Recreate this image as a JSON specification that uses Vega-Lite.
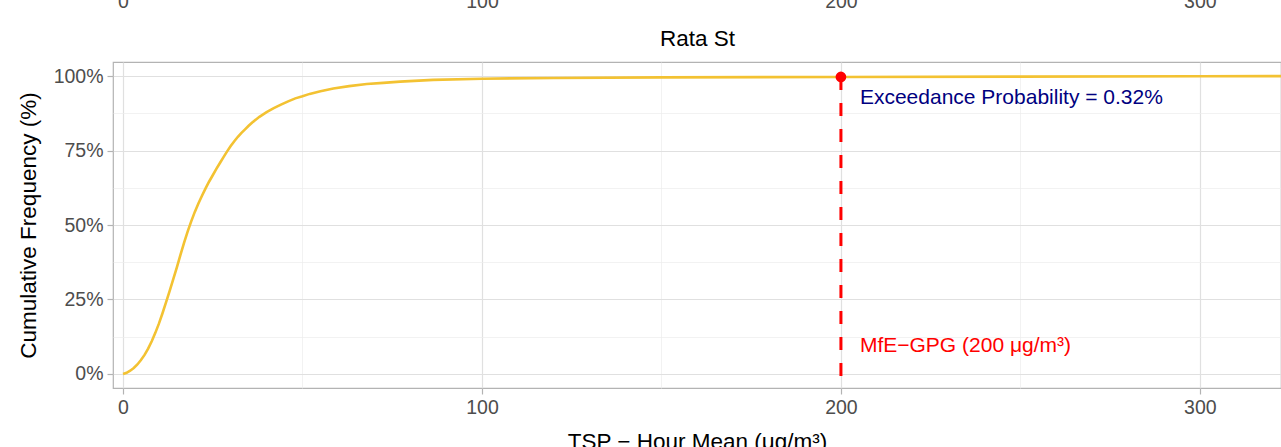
{
  "$schema": "https://vega.github.io/schema/vega-lite/v6.json",
  "width": 1168,
  "height": 326,
  "autosize": {"type": "none"},
  "padding": {"left": 113, "top": 62, "right": 0, "bottom": 59},
  "background": "white",
  "config": {
    "font": "Liberation Sans",
    "view": {"stroke": "#B3B3B3", "strokeWidth": 1.2},
    "axis": {"labelFont": "Liberation Sans", "titleFont": "Liberation Sans"}
  },
  "datasets": {
    "ecdf": [
      {"x": 0, "p": 0},
      {"x": 1, "p": 0.004},
      {"x": 2, "p": 0.011},
      {"x": 3, "p": 0.02},
      {"x": 4, "p": 0.032},
      {"x": 5, "p": 0.047},
      {"x": 6, "p": 0.064},
      {"x": 7, "p": 0.085},
      {"x": 8, "p": 0.11},
      {"x": 9, "p": 0.138},
      {"x": 10, "p": 0.169},
      {"x": 11, "p": 0.204},
      {"x": 12, "p": 0.241},
      {"x": 13, "p": 0.279},
      {"x": 14, "p": 0.318},
      {"x": 15, "p": 0.358},
      {"x": 16, "p": 0.4},
      {"x": 17, "p": 0.44},
      {"x": 18, "p": 0.478},
      {"x": 19, "p": 0.512},
      {"x": 20, "p": 0.544},
      {"x": 21, "p": 0.572},
      {"x": 22, "p": 0.598},
      {"x": 23, "p": 0.623},
      {"x": 24, "p": 0.646},
      {"x": 25, "p": 0.667},
      {"x": 26, "p": 0.688},
      {"x": 27, "p": 0.708},
      {"x": 28, "p": 0.728},
      {"x": 29, "p": 0.747},
      {"x": 30, "p": 0.765},
      {"x": 31, "p": 0.781},
      {"x": 32, "p": 0.796},
      {"x": 33, "p": 0.809},
      {"x": 34, "p": 0.821},
      {"x": 35, "p": 0.833},
      {"x": 36, "p": 0.844},
      {"x": 38, "p": 0.863},
      {"x": 40, "p": 0.879},
      {"x": 42, "p": 0.892},
      {"x": 44, "p": 0.904},
      {"x": 46, "p": 0.915},
      {"x": 48, "p": 0.925},
      {"x": 50, "p": 0.932},
      {"x": 52, "p": 0.94},
      {"x": 55, "p": 0.949},
      {"x": 58.6, "p": 0.958},
      {"x": 63, "p": 0.966},
      {"x": 67.9, "p": 0.973},
      {"x": 72.5, "p": 0.977},
      {"x": 77.2, "p": 0.981},
      {"x": 86.4, "p": 0.987},
      {"x": 100, "p": 0.991},
      {"x": 120, "p": 0.9935},
      {"x": 150, "p": 0.9955},
      {"x": 200, "p": 0.9968},
      {"x": 250, "p": 0.998},
      {"x": 300, "p": 0.999},
      {"x": 340, "p": 1.0}
    ],
    "threshold": [
      {"x": 200, "p": 0.9968}
    ],
    "labels": [
      {"x": 200, "p": 0.926, "label": "Exceedance Probability = 0.32%", "kind": "prob"},
      {"x": 200, "p": 0.094, "label": "MfE\u2212GPG (200 \u03bcg/m\u00b3)", "kind": "std"}
    ]
  },
  "resolve": {"axis": {"x": "independent"}},
  "layer": [
    {
      "data": {"name": "ecdf"},
      "mark": {"type": "line", "color": "#F3C232", "strokeWidth": 2.6, "clip": true},
      "encoding": {
        "x": {
          "field": "x", "type": "quantitative",
          "scale": {"domain": [-2.79, 322.6], "nice": false, "zero": false},
          "axis": {
            "orient": "bottom",
            "values": [0, 50, 100, 150, 200, 250, 300],
            "labelExpr": "datum.value % 100 === 0 ? datum.label : ''",
            "domain": false,
            "grid": true,
            "gridColor": {"condition": {"test": "datum.value % 100 === 0", "value": "#E0E0E0"}, "value": "#EDEDED"},
            "gridWidth": {"condition": {"test": "datum.value % 100 === 0", "value": 1.2}, "value": 0.7},
            "tickColor": "#B3B3B3",
            "tickOpacity": {"condition": {"test": "datum.value % 100 === 0", "value": 1}, "value": 0},
            "tickSize": 6,
            "tickWidth": 1.2,
            "labelPadding": 4,
            "labelFontSize": 19.5,
            "labelColor": "#4D4D4D",
            "title": "TSP \u2212 Hour Mean (\u03bcg/m\u00b3)",
            "titleFontSize": 22.5,
            "titleFontWeight": "normal",
            "titleColor": "#000000",
            "titlePadding": 14
          }
        },
        "y": {
          "field": "p", "type": "quantitative",
          "scale": {"domain": [-0.047, 1.047], "nice": false, "zero": false},
          "axis": {
            "orient": "left",
            "values": [0, 0.125, 0.25, 0.375, 0.5, 0.625, 0.75, 0.875, 1],
            "labelExpr": "(datum.value * 4) % 1 === 0 ? format(datum.value, '.0%') : ''",
            "domain": false,
            "grid": true,
            "gridColor": {"condition": {"test": "(datum.value * 4) % 1 === 0", "value": "#E0E0E0"}, "value": "#EDEDED"},
            "gridWidth": {"condition": {"test": "(datum.value * 4) % 1 === 0", "value": 1.2}, "value": 0.7},
            "tickColor": "#B3B3B3",
            "tickOpacity": {"condition": {"test": "(datum.value * 4) % 1 === 0", "value": 1}, "value": 0},
            "tickSize": 6,
            "tickWidth": 1.2,
            "labelPadding": 4,
            "labelFontSize": 19.5,
            "labelColor": "#4D4D4D",
            "title": "Cumulative Frequency (%)",
            "titleFontSize": 22.5,
            "titleFontWeight": "normal",
            "titleColor": "#000000",
            "titlePadding": 13
          }
        }
      }
    },
    {
      "data": {"name": "threshold"},
      "mark": {"type": "rule", "color": "red", "strokeWidth": 3, "strokeDash": [13, 13]},
      "encoding": {
        "x": {"field": "x", "type": "quantitative", "axis": null},
        "y": {"field": "p", "type": "quantitative"},
        "y2": {"value": "height"}
      }
    },
    {
      "data": {"name": "threshold"},
      "mark": {"type": "point", "filled": true, "color": "red", "size": 115, "opacity": 1},
      "encoding": {
        "x": {
          "field": "x", "type": "quantitative",
          "axis": {
            "orient": "top",
            "values": [0, 100, 200, 300],
            "domain": false,
            "grid": false,
            "ticks": false,
            "tickSize": 0,
            "labelPadding": 55,
            "labelBaseline": "alphabetic",
            "labelFontSize": 19.5,
            "labelColor": "#4D4D4D",
            "title": "Rata St",
            "titleFontSize": 22.5,
            "titleFontWeight": "normal",
            "titleColor": "#000000",
            "titleBaseline": "alphabetic",
            "titleY": -17
          }
        },
        "y": {"field": "p", "type": "quantitative"}
      }
    },
    {
      "data": {"name": "labels"},
      "mark": {"type": "text", "align": "left", "baseline": "middle", "dx": 19, "fontSize": 21},
      "encoding": {
        "x": {"field": "x", "type": "quantitative", "axis": null},
        "y": {"field": "p", "type": "quantitative"},
        "text": {"field": "label"},
        "color": {
          "field": "kind", "type": "nominal",
          "scale": {"domain": ["prob", "std"], "range": ["navy", "red"]},
          "legend": null
        }
      }
    }
  ]
}
